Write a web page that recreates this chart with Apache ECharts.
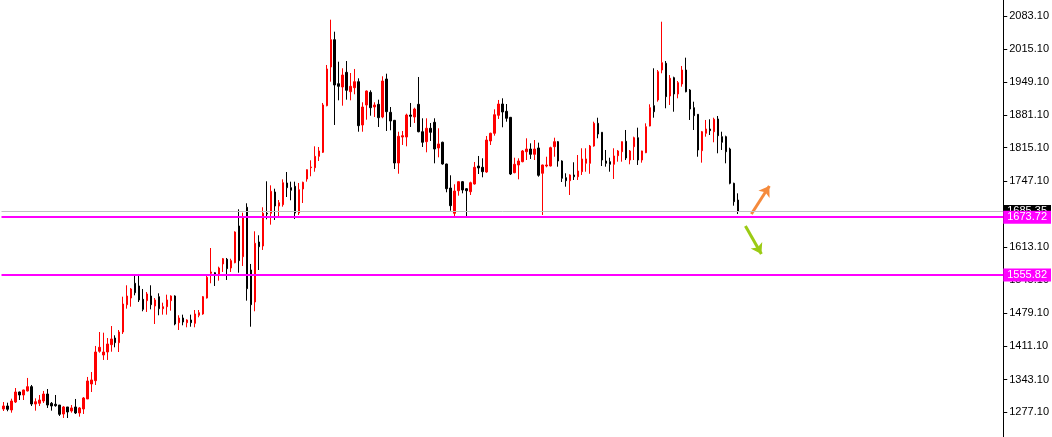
<!DOCTYPE html>
<html>
<head>
<meta charset="utf-8">
<script src="https://cdn.jsdelivr.net/npm/echarts@6/dist/echarts.min.js"></script>
<style>
html,body{margin:0;padding:0;background:#fff;}
#chart{width:1052px;height:437px;}
</style>
</head>
<body>
<div id="chart"></div>
<script>
// [open, close, low, high]
const candles = [
[1283.2,1289.3,1279.1,1297.4],[1289.3,1282.6,1278.6,1296.0],[1281.2,1299.5,1275.7,1304.2],[1297.4,1317.8,1295.4,1325.9],
[1317.8,1311.7,1301.5,1318.5],[1311.7,1321.9,1301.5,1322.5],[1319.9,1328.7,1318.9,1346.4],[1328.7,1293.4,1289.3,1332.1],
[1293.4,1298.0,1279.8,1304.9],[1294.8,1301.5,1289.3,1311.7],[1299.5,1313.7,1295.4,1319.9],[1313.7,1291.3,1285.3,1323.9],
[1294.8,1289.3,1279.8,1297.4],[1292.8,1289.9,1287.9,1311.7],[1291.3,1272.4,1269.0,1291.3],[1273.0,1287.3,1264.9,1289.3],
[1287.3,1277.1,1264.9,1287.3],[1279.1,1285.3,1275.7,1291.3],[1287.3,1275.1,1273.0,1303.6],[1275.1,1285.3,1267.6,1287.3],
[1283.2,1305.6,1273.0,1307.6],[1303.6,1340.2,1303.6,1348.4],[1334.1,1342.3,1317.8,1358.5],[1340.8,1399.2,1332.1,1411.5],
[1400.7,1408.8,1397.8,1439.9],[1393.1,1399.2,1383.0,1438.5],[1399.2,1415.5,1383.0,1427.7],[1414.1,1425.7,1399.8,1452.1],
[1427.7,1418.2,1408.8,1433.2],[1418.2,1439.9,1399.2,1444.0],[1439.9,1496.9,1435.9,1511.8],[1495.5,1513.2,1487.4,1535.0],
[1509.1,1527.5,1491.4,1529.5],[1539.1,1519.9,1514.6,1555.9],[1533.6,1505.1,1501.0,1558.0],[1506.5,1486.1,1482.1,1527.5],
[1503.7,1517.3,1480.7,1521.4],[1513.2,1495.5,1486.1,1535.0],[1492.9,1505.1,1456.2,1509.1],[1511.8,1487.4,1474.0,1518.7],
[1487.4,1491.4,1475.2,1499.6],[1491.4,1505.1,1475.2,1515.9],[1503.7,1513.2,1483.3,1514.6],[1513.2,1456.2,1453.6,1514.6],
[1458.9,1468.4,1444.0,1474.0],[1468.4,1460.3,1453.6,1475.2],[1458.9,1464.4,1449.5,1465.8],[1464.4,1458.9,1450.7,1475.2],
[1457.6,1476.6,1449.5,1484.7],[1474.0,1479.2,1469.9,1484.7],[1476.6,1511.8,1475.0,1513.2],[1509.1,1551.3,1508.0,1556.6],
[1559.4,1562.1,1539.1,1610.9],[1560.6,1555.3,1533.6,1561.5],[1556.6,1570.2,1544.4,1572.9],[1578.4,1589.1,1562.1,1590.6],
[1587.9,1568.8,1545.8,1590.6],[1570.2,1585.1,1562.1,1589.1],[1581.0,1643.5,1579.8,1644.9],[1655.7,1585.1,1560.6,1689.7],
[1593.2,1674.6,1574.3,1682.8],[1693.8,1528.1,1503.7,1701.9],[1566.1,1495.5,1450.7,1578.4],[1501.0,1620.5,1482.1,1644.9],
[1623.1,1613.6,1566.1,1636.8],[1615.0,1681.6,1606.9,1693.8],[1681.6,1680.1,1669.3,1746.7],[1681.6,1726.3,1658.4,1738.5],
[1724.9,1696.4,1667.9,1731.6],[1696.4,1703.1,1676.0,1708.6],[1699.1,1743.8,1695.0,1750.7],[1743.2,1733.7,1714.7,1765.6],
[1733.7,1728.4,1708.0,1745.9],[1736.5,1682.2,1670.0,1745.9],[1682.2,1729.6,1678.1,1743.2],[1731.0,1744.6,1702.5,1745.9],
[1751.4,1770.3,1745.9,1771.0],[1774.4,1775.8,1756.9,1789.4],[1774.4,1797.5,1766.2,1817.9],[1797.5,1808.4,1788.0,1816.5],
[1805.7,1902.0,1804.3,1906.1],[1900.6,1975.3,1899.3,1983.4],[1979.3,2034.9,1949.4,2075.6],[2034.9,1942.7,1861.3,2051.2],
[1945.3,1940.0,1911.5,1990.1],[1938.6,1963.0,1900.6,1976.7],[1968.5,1931.9,1912.8,1991.5],[1929.0,1940.0,1911.5,1967.1],
[1937.2,1949.4,1923.8,1975.3],[1949.4,1859.9,1847.6,1956.3],[1861.3,1897.9,1847.6,1907.5],[1902.0,1930.5,1872.1,1931.5],
[1927.8,1896.5,1880.2,1931.9],[1897.9,1902.0,1877.6,1907.5],[1903.4,1876.1,1857.2,1912.8],[1877.6,1950.8,1874.9,1960.4],
[1954.9,1888.3,1849.1,1965.7],[1887.1,1869.4,1850.5,1897.9],[1870.8,1783.9,1771.7,1871.5],[1783.9,1838.3,1762.1,1847.6],
[1836.8,1839.5,1820.6,1849.1],[1836.8,1881.6,1817.9,1884.3],[1881.6,1879.0,1857.2,1906.1],[1877.6,1893.8,1865.4,1896.5],
[1903.4,1847.6,1846.4,1959.0],[1847.6,1826.1,1816.5,1874.9],[1827.3,1854.6,1805.7,1874.9],[1854.6,1846.4,1828.7,1865.4],
[1866.8,1812.4,1783.3,1874.9],[1814.5,1822.6,1795.5,1854.6],[1826.1,1781.9,1780.5,1827.3],[1781.9,1731.6,1724.3,1782.5],
[1733.0,1697.0,1686.8,1758.9],[1681.6,1726.9,1674.6,1740.6],[1727.5,1745.9,1717.4,1746.5],[1745.9,1729.0,1722.2,1747.3],
[1731.6,1727.5,1674.6,1733.0],[1725.5,1743.8,1718.8,1745.9],[1741.2,1775.2,1740.0,1786.0],[1777.8,1773.8,1761.5,1798.2],
[1775.2,1766.2,1754.8,1793.5],[1765.6,1830.7,1764.0,1838.9],[1828.7,1844.4,1820.6,1845.6],[1844.4,1882.2,1839.5,1893.2],
[1881.0,1904.0,1873.5,1912.2],[1904.0,1887.7,1856.6,1915.6],[1889.1,1874.9,1868.0,1904.0],[1876.9,1761.5,1759.5,1877.6],
[1764.2,1781.3,1763.0,1794.7],[1779.9,1788.0,1750.7,1793.5],[1786.6,1808.4,1785.4,1810.4],[1806.9,1812.4,1790.0,1834.2],
[1812.4,1801.6,1792.1,1824.0],[1801.6,1812.4,1790.0,1830.7],[1814.5,1758.9,1756.0,1825.3],[1763.0,1779.9,1678.1,1780.5],
[1777.8,1779.9,1775.2,1796.7],[1777.8,1815.1,1777.0,1817.1],[1817.1,1827.3,1796.7,1835.4],[1827.3,1788.0,1776.4,1828.7],
[1788.0,1752.8,1745.3,1789.4],[1754.0,1747.9,1735.7,1763.0],[1747.9,1759.5,1718.8,1760.9],[1759.5,1756.0,1749.3,1785.4],
[1756.0,1767.6,1749.3,1800.2],[1766.2,1792.1,1759.5,1813.9],[1783.3,1792.1,1766.2,1813.9],[1783.3,1818.5,1762.0,1820.6],
[1818.5,1864.7,1817.1,1868.0],[1864.7,1842.9,1834.2,1876.1],[1846.4,1790.0,1777.8,1846.4],[1788.0,1783.3,1776.4,1810.4],
[1786.6,1781.3,1766.2,1794.7],[1781.3,1798.2,1751.4,1813.9],[1798.8,1808.4,1786.6,1810.4],[1806.9,1827.3,1786.6,1827.9],
[1828.1,1794.1,1790.0,1851.1],[1790.0,1808.4,1781.3,1810.4],[1817.1,1835.4,1790.0,1837.5],[1835.4,1790.0,1779.9,1855.8],
[1790.0,1808.4,1784.6,1809.0],[1804.9,1857.8,1804.0,1864.7],[1859.2,1896.5,1858.5,1903.4],[1900.6,1888.3,1876.1,1976.7],
[1912.2,1969.8,1908.7,1973.2],[1973.2,1988.1,1966.5,2071.5],[1986.9,1918.9,1895.3,1991.5],[1920.3,1956.3,1902.0,1963.0],
[1957.6,1924.4,1888.3,1959.6],[1924.4,1947.4,1915.6,1950.8],[1944.7,1973.2,1939.2,1981.4],[1973.2,1929.0,1927.8,1998.3],
[1932.5,1893.8,1871.5,1934.5],[1896.5,1880.2,1851.1,1908.7],[1883.0,1810.4,1796.7,1883.6],[1809.0,1847.6,1784.6,1849.1],
[1844.4,1853.1,1837.5,1871.5],[1853.1,1849.7,1840.9,1872.9],[1847.6,1872.9,1826.1,1876.1],[1873.5,1839.5,1803.7,1879.6],
[1837.5,1826.1,1810.4,1847.6],[1837.5,1806.9,1783.3,1839.5],[1812.4,1742.6,1740.6,1815.1],[1742.6,1705.2,1697.0,1743.8],
[1708.6,1685.4,1680.1,1722.2]
];
const tickValues = [2083.1, 2015.1, 1949.1, 1881.1, 1815.1, 1747.1, 1613.1, 1545.1, 1479.1, 1411.1, 1343.1, 1277.1];
const bidPrice = 1685.35;
const levelPrices = [1673.72, 1555.82];
const arrowUp = [[187.4, 1680.1], [191.9, 1737.1]];
const arrowDown = [[185.9, 1655.7], [189.9, 1598.7]];
const slotCount = 251;
const yMin = 1226.2, yMax = 2115.7;

const categories = [];
for (let i = 0; i < slotCount; i++) categories.push(String(i));

const chart = echarts.init(document.getElementById('chart'), null, {renderer: 'canvas'});
const boxLabel = (bg, txt) => ({
  show: true, position: 'end', distance: 0, formatter: txt,
  backgroundColor: bg, color: '#fff', fontFamily: 'Liberation Sans', fontSize: 11,
  padding: [1, 4, 0, 4], lineHeight: 12
});
chart.setOption({
  animation: false,
  backgroundColor: '#ffffff',
  grid: {left: 1.5, right: 46.5, top: 0, bottom: 0, containLabel: false},
  xAxis: [
    {type: 'category', data: categories, show: false, boundaryGap: true},
    {type: 'value', min: -0.5, max: slotCount - 0.5, show: false}
  ],
  yAxis: {
    type: 'value', position: 'right', min: yMin, max: yMax,
    splitLine: {show: false},
    axisLine: {show: true, onZero: false, lineStyle: {color: '#000', width: 1}},
    axisTick: {show: true, inside: false, length: 4, customValues: tickValues, lineStyle: {color: '#000'}},
    axisLabel: {customValues: tickValues, formatter: v => v.toFixed(2), color: '#000',
      fontFamily: 'Liberation Sans', fontSize: 11, margin: 6}
  },
  series: [
    {
      type: 'candlestick', data: candles, barWidth: 2,
      itemStyle: {color: '#FF0000', color0: '#000000', borderColor: '#FF0000', borderColor0: '#000000', borderWidth: 1},
      markLine: {
        silent: true, symbol: 'none', animation: false,
        data: [
          {yAxis: bidPrice, lineStyle: {color: '#C0C0C0', width: 1, type: 'solid'}, label: boxLabel('#000000', bidPrice.toFixed(2))},
          {yAxis: levelPrices[0], lineStyle: {color: '#FF00FF', width: 2, type: 'solid'}, label: boxLabel('#FF00FF', levelPrices[0].toFixed(2))},
          {yAxis: levelPrices[1], lineStyle: {color: '#FF00FF', width: 2, type: 'solid'}, label: boxLabel('#FF00FF', levelPrices[1].toFixed(2))}
        ]
      }
    },
    {
      type: 'lines', coordinateSystem: 'cartesian2d', xAxisIndex: 1, yAxisIndex: 0,
      symbol: ['none', 'arrow'], symbolSize: 10, silent: true,
      lineStyle: {width: 3, opacity: 1},
      data: [
        {coords: arrowUp, lineStyle: {color: '#F58A3C'}},
        {coords: arrowDown, lineStyle: {color: '#9BCB14'}}
      ]
    }
  ]
});
</script>
</body>
</html>
